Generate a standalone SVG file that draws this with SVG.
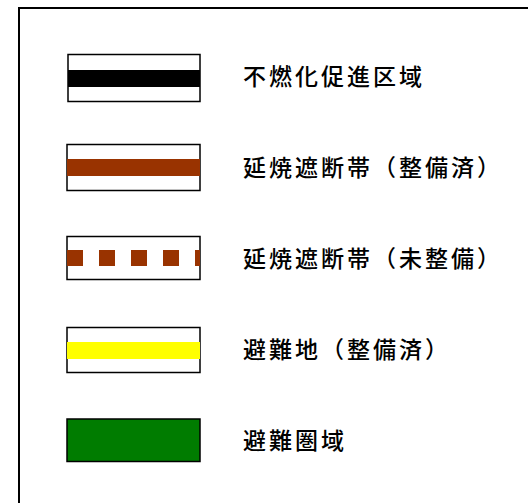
<svg xmlns="http://www.w3.org/2000/svg" width="528" height="503" viewBox="0 0 528 503">
<style>
.frame{fill:none;stroke:#000;stroke-width:2}
.box{fill:#fff;stroke:#000;stroke-width:1.5}
.lbl{font-family:"Noto Sans CJK JP","Noto Sans CJK SC",sans-serif;font-size:23px;font-weight:500;letter-spacing:3px;fill:#000}
</style>
<rect x="0" y="0" width="528" height="503" fill="#fff"/>
<rect class="frame" x="19" y="8" width="520" height="510"/>
<g id="fuennka">
<rect class="box" x="68" y="54.5" width="132" height="47"/>
<rect x="68" y="70" width="132" height="17" fill="#000"/>
<text class="lbl" x="243" y="84.5">不燃化促進区域</text>
</g>
<g id="enshou-done">
<rect class="box" x="67" y="144.5" width="133" height="46"/>
<rect x="67" y="159" width="133" height="17" fill="#993300"/>
<text class="lbl" x="243" y="175.5">延焼遮断帯（整備済）</text>
</g>
<g id="enshou-todo">
<rect class="box" x="67" y="236.5" width="133" height="43"/>
<line x1="67" y1="258" x2="200" y2="258" stroke="#993300" stroke-width="16" stroke-dasharray="16 16"/>
<text class="lbl" x="243" y="266.5">延焼遮断帯（未整備）</text>
</g>
<g id="hinanchi">
<rect class="box" x="67" y="327.5" width="133" height="45"/>
<rect x="67" y="342" width="133" height="17" fill="#ffff00"/>
<text class="lbl" x="243" y="358">避難地（整備済）</text>
</g>
<g id="hinanken">
<rect x="67" y="419" width="133" height="42.5" fill="#007c00" stroke="#000" stroke-width="1.5"/>
<text class="lbl" x="243" y="449">避難圏域</text>
</g>
<g id="connectors"/>
</svg>
